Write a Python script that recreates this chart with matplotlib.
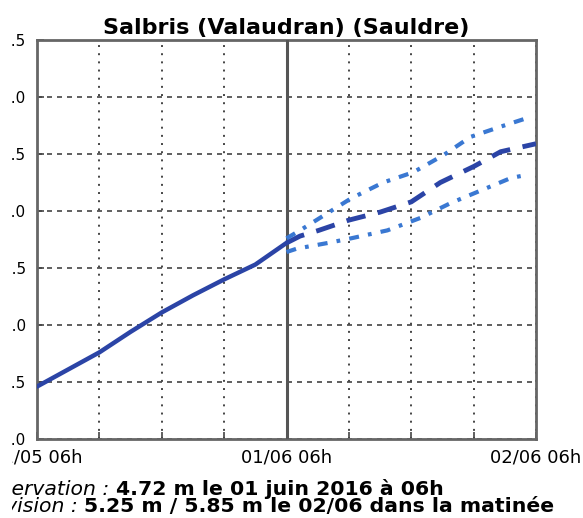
import matplotlib
matplotlib.use("Agg")
import matplotlib.pyplot as plt
from matplotlib.transforms import Bbox

# ---- data ----
title = "Salbris (Valaudran) (Sauldre)"
obs_hours = [0, 3, 6, 9, 12, 15, 18, 21, 24]
obs_values = [3.46, 3.61, 3.76, 3.94, 4.11, 4.26, 4.40, 4.53, 4.72]

mid_hours = [24, 25.3, 27.1, 30, 33, 36, 38.8, 42, 44.6, 48]
mid_values = [4.72, 4.78, 4.83, 4.92, 4.99, 5.08, 5.25, 5.39, 5.52, 5.59]
high_hours = [24, 25.3, 30.2, 33.3, 36.2, 39.1, 41.7, 44.6, 47.3]
high_values = [4.76, 4.83, 5.11, 5.25, 5.34, 5.49, 5.65, 5.74, 5.82]
low_hours = [24, 25, 28, 30.2, 33.7, 36.9, 39.8, 42.7, 45.6, 47.3]
low_values = [4.64, 4.67, 4.72, 4.76, 4.83, 4.94, 5.07, 5.18, 5.29, 5.32]

xtick_pos = [0, 24, 48]
xtick_labels = ["31/05 06h", "01/06 06h", "02/06 06h"]
ytick_pos = [3.0, 3.5, 4.0, 4.5, 5.0, 5.5, 6.0, 6.5]

line1_label = "Observation : "
line1_value = "4.72 m le 01 juin 2016 à 06h"
line2_label = "Prévision : "
line2_value = "5.25 m / 5.85 m le 02/06 dans la matinée"

# ---- figure ----
W, H = 583, 518
fig = plt.figure(figsize=(W / 100, H / 100), dpi=100)
ax = fig.add_axes([37 / W, 1 - 439 / H, (536 - 37) / W, (439 - 40) / H])

dark = "#2b44a6"
light = "#3a78d2"

ax.plot(obs_hours, obs_values, color=dark, lw=3.2, solid_capstyle="round", zorder=4)
ax.plot(mid_hours, mid_values, color=dark, lw=3.5, dashes=(4, 2.6), zorder=4)
ax.plot(high_hours, high_values, color=light, lw=3.0, dashes=(2.4, 2.2, 0.9, 2.2), zorder=4)
ax.plot(low_hours, low_values, color=light, lw=3.0, dashes=(2.4, 2.2, 0.9, 2.2), zorder=4)

ax.axvline(24, color="#555555", lw=2.2, zorder=3)

ax.set_xlim(0, 48)
ax.set_ylim(3.0, 6.5)
ax.set_xticks(xtick_pos)
ax.set_xticklabels(xtick_labels, fontsize=13)
ax.set_xticks(range(0, 49, 6), minor=True)
ax.set_yticks(ytick_pos)
ax.set_yticklabels([f"{v:.1f}" for v in ytick_pos], fontsize=11)
ax.tick_params(axis="both", which="both", direction="in", length=5, width=1.2, color="#444444")
ax.tick_params(axis="x", pad=7)
ax.tick_params(axis="y", pad=8)

ax.grid(True, axis="x", which="both", linestyle=(0, (1, 3.2)), color="#444444", lw=1.4)
ax.grid(True, axis="y", which="major", linestyle=(0, (3, 3)), color="#444444", lw=1.2)
for s in ax.spines.values():
    s.set_color("#666666")
    s.set_linewidth(2.0)

ax.set_title(title, fontsize=16, fontweight="bold", pad=4)

# the reference picture is cropped on its left side (blank band): clip texts the same way
crop = Bbox.from_extents(11.5, 0, W, H)
for lbl in list(ax.get_xticklabels()) + list(ax.get_yticklabels()):
    lbl.set_clip_box(crop)
    lbl.set_clip_on(True)

# bottom texts: italic label followed by bold value
fig.canvas.draw()
renderer = fig.canvas.get_renderer()
x0 = -28 / W
for ypix, lab, val in [(495, line1_label, line1_value), (512, line2_label, line2_value)]:
    t = fig.text(x0, 1 - ypix / H, lab, fontsize=14.7, style="italic", va="baseline", ha="left")
    t.set_clip_box(crop)
    t.set_clip_on(True)
    bb = t.get_window_extent(renderer=renderer)
    fig.text(bb.x1 / W, 1 - ypix / H, val, fontsize=14.7, fontweight="bold", va="baseline", ha="left")

fig.savefig("out.png", dpi=100)
